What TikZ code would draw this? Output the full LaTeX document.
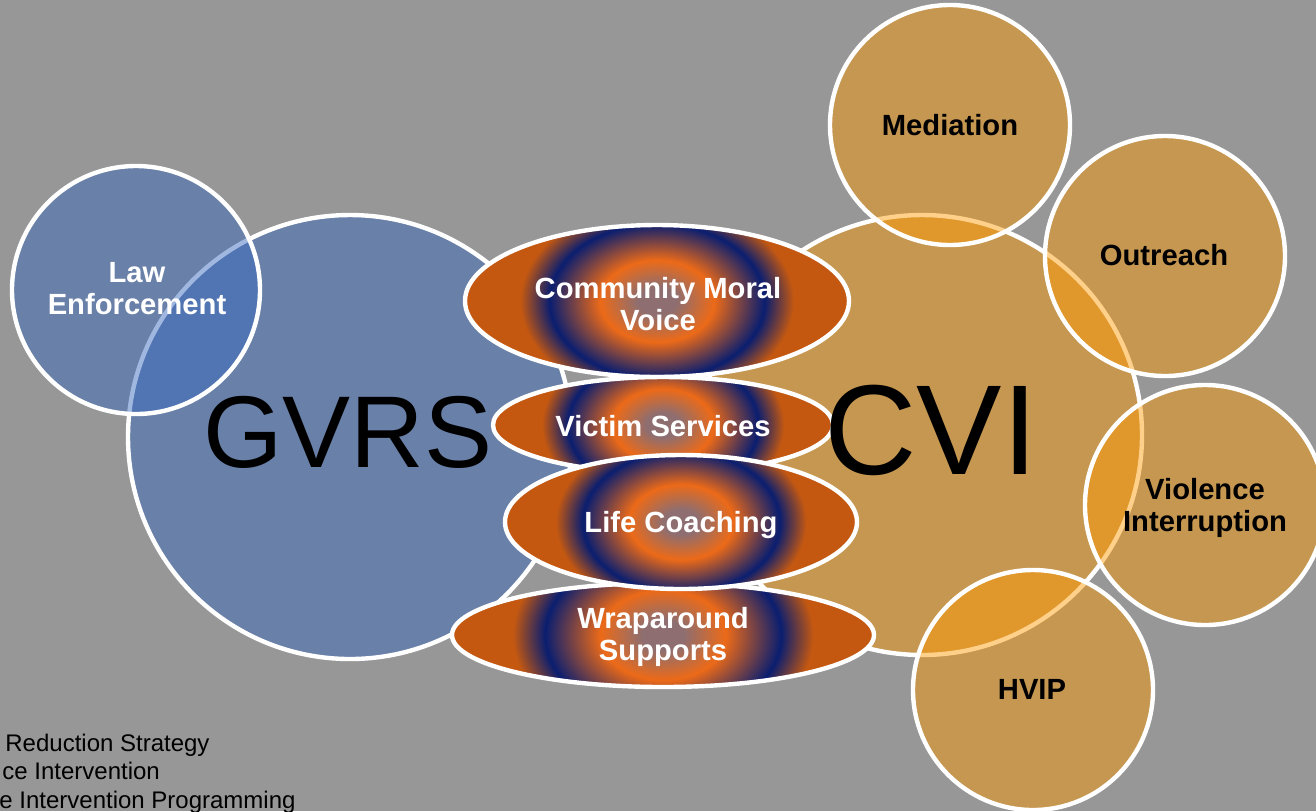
\documentclass[tikz,border=0pt]{standalone}
\usepackage{fontspec}
\setmainfont{Liberation Sans}
\usetikzlibrary{shapes.geometric}
\definecolor{bg}{RGB}{151,151,151}
\definecolor{cblue}{RGB}{55,104,190}
\definecolor{corange}{RGB}{255,153,0}
\definecolor{rctr}{RGB}{142,110,112}
\definecolor{rorg}{RGB}{236,106,24}
\definecolor{rnvy}{RGB}{10,30,112}
\definecolor{rbrn}{RGB}{196,88,17}
\pgfdeclareradialshading{ringshade}{\pgfpoint{0bp}{0bp}}{color(0bp)=(rctr); color(2.5bp)=(rctr); color(7.4bp)=(rorg); color(14bp)=(rnvy); color(17.8bp)=(rbrn); color(25bp)=(rbrn); color(50bp)=(rbrn)}
\begin{document}
\begin{tikzpicture}[x=0.5pt,y=-0.5pt,
  bluec/.style={circle, draw=white, line width=2.2pt, fill=cblue, fill opacity=0.47, inner sep=0pt},
  orangec/.style={circle, draw=white, line width=2.2pt, fill=corange, fill opacity=0.46, inner sep=0pt},
  ringell/.style={ellipse, draw=white, line width=2.2pt, fill=rbrn, inner sep=0pt,
    path picture={\shade[shading=ringshade] (path picture bounding box.center) ellipse [x radius=#1, y radius=0.72*#1];}},
  lbl/.style={font=\bfseries\fontsize{14.6}{16}\selectfont, align=center, inner sep=0pt},
  wlbl/.style={lbl, text=white},
  klbl/.style={lbl, text=black},
  biglbl/.style={inner sep=0pt, text=black},
  notelbl/.style={inner sep=0pt, anchor=west, text=black, font=\fontsize{12}{14}\selectfont}
]
\fill[bg] (0,0) rectangle (1316,811);
\useasboundingbox (0,0) rectangle (1316,811);

% big circles
\node[bluec, minimum size=222pt] (gvrs) at (350,437) {};
\node[orangec, minimum size=220pt] (cvi) at (922,435) {};

% small circles
\node[bluec, minimum size=124pt] (law) at (136,290) {};
\node[orangec, minimum size=120pt] (med) at (950,125) {};
\node[orangec, minimum size=120pt] (out) at (1165,256) {};
\node[orangec, minimum size=120pt] (vio) at (1205,505) {};
\node[orangec, minimum size=120pt] (hvip) at (1033,690) {};

% ellipses
\node[ringell=96pt, minimum width=192pt, minimum height=76pt] (cmv) at (657,301) {};
\node[ringell=85pt, minimum width=170pt, minimum height=48pt] (vs) at (663,425) {};
\node[ringell=105.5pt, minimum width=211pt, minimum height=52pt] (wrap) at (663,635) {};
\node[ringell=88pt, minimum width=176pt, minimum height=67pt] (lc) at (681,522) {};

% labels
\node[biglbl, font=\fontsize{51}{60}\selectfont] (gvrst) at (348,432.5) {GVRS};
\node[biglbl, font=\fontsize{64}{72}\selectfont] (cvit) at (931,430) {CVI};
\node[wlbl] (lawt) at (137,289) {Law\\Enforcement};
\node[wlbl] (cmvt) at (658,304) {Community Moral\\Voice};
\node[wlbl] (vst) at (663,426) {Victim Services};
\node[wlbl] (lct) at (681,525) {Life Coaching};
\node[wlbl] (wrapt) at (663,637) {Wraparound\\Supports};
\node[klbl] (medt) at (950,125) {Mediation};
\node[klbl] (outt) at (1164,255) {Outreach};
\node[klbl] (viot) at (1205,508) {Violence\\Interruption};
\node[klbl] (hvipt) at (1032,689) {HVIP};

% bottom-left notes
\node[notelbl] (n1) at (5,745.5) {Reduction Strategy};
\node[notelbl] (n2) at (2,771) {ce Intervention};
\node[notelbl] (n3) at (-1,802.5) {e Intervention Programming};
\end{tikzpicture}
\end{document}
